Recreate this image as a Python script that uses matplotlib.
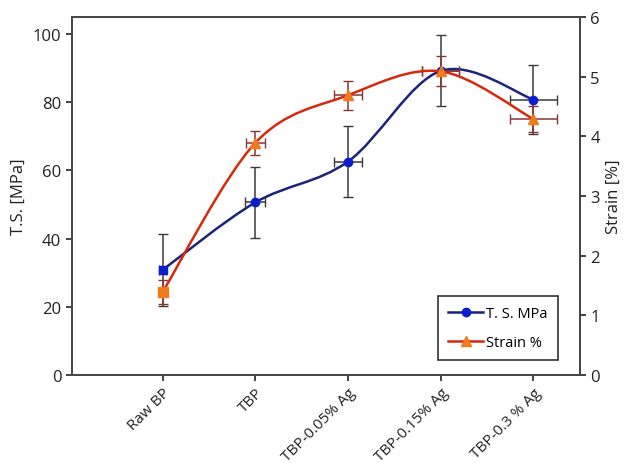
import numpy as np
import matplotlib
matplotlib.use('Agg')
import matplotlib.pyplot as plt
from matplotlib.path import Path
from matplotlib.patches import PathPatch
from matplotlib.lines import Line2D

categories = ['Raw BP', 'TBP', 'TBP-0.05% Ag', 'TBP-0.15% Ag', 'TBP-0.3 % Ag']
ts_mpa = [30.8, 50.6, 62.6, 89.2, 80.8]
ts_err = [10.5, 10.3, 10.5, 10.4, 10.2]
ts_xerr = [0.04, 0.11, 0.15, 0.2, 0.25]
strain = [1.39, 3.89, 4.69, 5.09, 4.29]
strain_err = [0.2, 0.2, 0.24, 0.25, 0.22]
strain_xerr = [0.04, 0.1, 0.15, 0.2, 0.25]

plt.rcParams['font.family'] = ['Open Sans', 'DejaVu Sans']


def smooth_path(xs, ys):
    # excel-like smoothed line: cubic bezier through the points
    pts = np.column_stack([xs, ys]).astype(float)
    n = len(pts)
    verts = [pts[0]]
    codes = [Path.MOVETO]
    for i in range(n - 1):
        p0 = pts[max(i - 1, 0)]
        p1 = pts[i]
        p2 = pts[i + 1]
        p3 = pts[min(i + 2, n - 1)]
        c1 = p1 + (p2 - p0) / 6.0
        c2 = p2 - (p3 - p1) / 6.0
        verts += [c1, c2, p2]
        codes += [Path.CURVE4] * 3
    return Path(verts, codes)


x = np.arange(len(categories))

fig = plt.figure(figsize=(6.35, 4.64), dpi=100)
ax = fig.add_axes([0.113, 0.19, 0.8, 0.771])
ax2 = ax.twinx()

blue_line = '#1b2478'
blue_mark = '#0a1ed0'
red_line = '#d8280c'
red_mark = '#f07a1e'

ax.add_patch(PathPatch(smooth_path(x, ts_mpa), facecolor='none',
                       edgecolor=blue_line, lw=1.8, zorder=3))
ax.errorbar(x, ts_mpa, yerr=ts_err, xerr=ts_xerr, fmt='none',
            ecolor='#3a3a3a', elinewidth=1.1, capsize=3.5, zorder=2)
# first point shows as a square in the original
ax.plot(x[:1], ts_mpa[:1], 's', color=blue_mark, ms=6, zorder=4)
ax.plot(x[1:], ts_mpa[1:], 'o', color=blue_mark, ms=6, zorder=4)

ax2.add_patch(PathPatch(smooth_path(x, strain), facecolor='none',
                        edgecolor=red_line, lw=1.8, zorder=3))
ax2.errorbar(x, strain, yerr=strain_err, xerr=strain_xerr, fmt='none',
             ecolor='#8a3535', elinewidth=1.1, capsize=3.5, zorder=2)
ax2.plot(x[:1], strain[:1], 's', color=red_mark, ms=6.5, zorder=4)
ax2.plot(x[1:], strain[1:], '^', color=red_mark, ms=7, zorder=4)

ax.set_xlim(-0.98, 4.5)
ax.set_ylim(0, 105)
ax2.set_ylim(0, 6)
ax.set_yticks([0, 20, 40, 60, 80, 100])
ax2.set_yticks([0, 1, 2, 3, 4, 5, 6])
ax.set_xticks(x)
ax.set_xticklabels(categories, rotation=45, ha='right', rotation_mode='anchor')

for a in (ax, ax2):
    a.tick_params(labelsize=12, colors='#222222', length=4, width=1.2)
    for s in a.spines.values():
        s.set_linewidth(1.2)
        s.set_color('#444444')
ax.tick_params(axis='x', labelsize=11)

ax.set_ylabel('T.S. [MPa]', fontsize=12, color='#222222')
ax2.set_ylabel('Strain [%]', fontsize=12, color='#222222')

handles = [
    Line2D([], [], color=blue_line, lw=1.8, marker='o', mfc=blue_mark, mec=blue_mark, ms=6),
    Line2D([], [], color=red_line, lw=1.8, marker='^', mfc=red_mark, mec=red_mark, ms=7),
]
leg = ax2.legend(handles, ['T. S. MPa', 'Strain %'], loc='lower right',
                 bbox_to_anchor=(0.957, 0.042), borderaxespad=0,
                 fontsize=10.5, fancybox=False,
                 edgecolor='#333333', framealpha=1, handlelength=2.4,
                 handletextpad=0.2, labelspacing=0.9, borderpad=0.7)
leg.get_frame().set_linewidth(1.2)

fig.savefig('out.png', dpi=100)
